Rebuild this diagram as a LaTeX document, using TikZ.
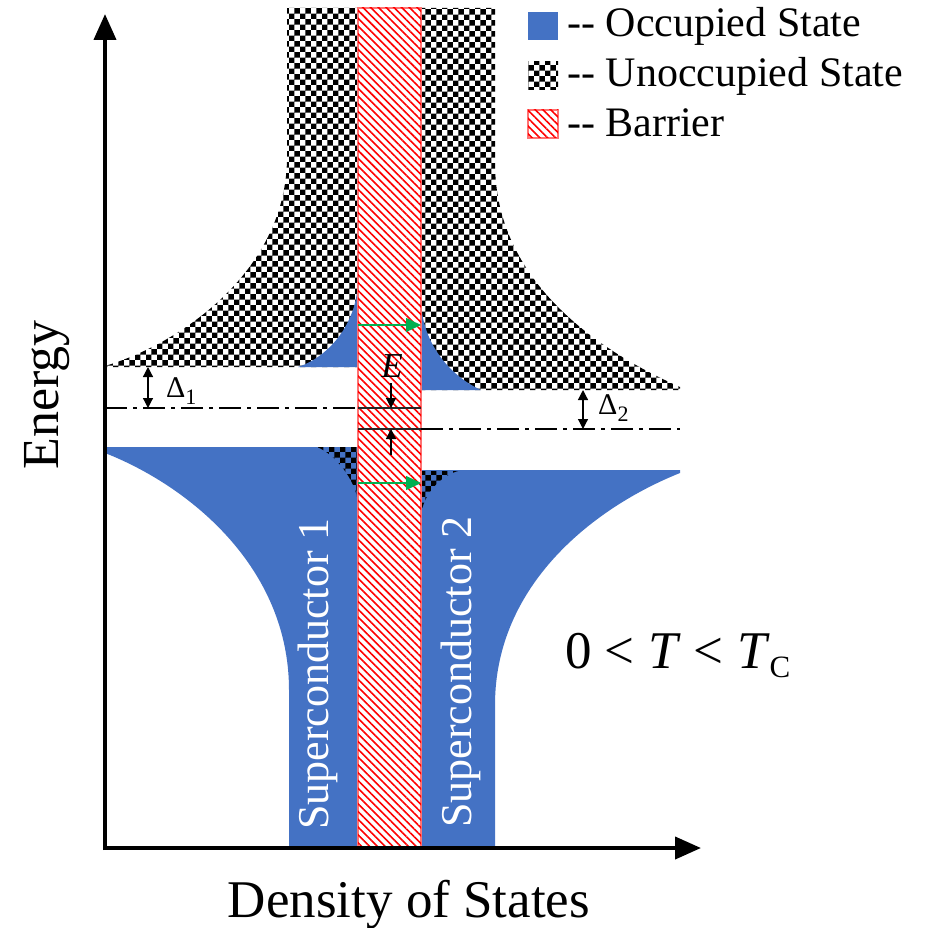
\documentclass[tikz,border=0pt]{standalone}
\usepackage{fontspec}
\setmainfont{LiberationSerif}[Extension=.ttf,UprightFont=*-Regular,ItalicFont=*-Italic,BoldFont=*-Bold,BoldItalicFont=*-BoldItalic]
\usetikzlibrary{patterns,patterns.meta,arrows.meta}
\definecolor{occ}{HTML}{4472C4}
\definecolor{grn}{HTML}{00B050}
\begin{document}
\begin{tikzpicture}[x=1pt,y=-1pt,
  occfill/.style={fill=occ},
  unocc/.style={pattern=checkerboard,pattern color=black},
  barrierbox/.style={fill=white,postaction={pattern={Lines[angle=-45,distance=5.5pt,line width=1.6pt]},pattern color=red},draw=red!55,line width=1.5pt},
  axisline/.style={line width=4pt,-{Triangle[length=26pt,width=22pt]}},
  dashdot/.style={line width=2.5pt,dash pattern=on 22pt off 6pt on 4pt off 6pt},
  thinline/.style={line width=1.5pt,black!85},
  greenarrow/.style={draw=grn,line width=1.2pt,-{Triangle[length=15pt,width=14pt]},grn},
  smallarrow/.style={line width=1.2pt,-{Triangle[length=10pt,width=10pt]}},
  dblarrow/.style={line width=1.2pt,{Triangle[length=10pt,width=10pt]}-{Triangle[length=10pt,width=10pt]}},
  legendtext/.style={font=\fontsize{42}{48}\selectfont,anchor=base west,inner sep=0pt},
  sclabel/.style={font=\fontsize{44}{48}\selectfont,text=white,rotate=90,inner sep=0pt}
]
\useasboundingbox (0,0) rectangle (925,928);

% ---------- Superconductor 1 ----------
\path[unocc] (287,8) -- (287,157) .. controls (287,266) and (188,341) .. (105,366)
  -- (105,367) -- (358,367) -- (358,8) -- cycle;
\path[occfill] (105,447) -- (358,447) -- (358,848) -- (289,848) -- (289,690)
  .. controls (289,567) and (189,486) .. (105,453) -- cycle;
\path[occfill] (358,278) .. controls (358,326) and (326,358) .. (298,367) -- (358,367) -- cycle;
\path[unocc] (317,447) .. controls (335,454) and (356,480) .. (358,503) -- (358,447) -- cycle;

% ---------- Superconductor 2 ----------
\path[unocc] (421,8) -- (495,8) -- (495,163) .. controls (495,280) and (596,350) .. (680,387)
  -- (680,390) -- (421,390) -- cycle;
\path[occfill] (421,470) -- (680,470) -- (680,473) .. controls (595,507) and (495,584) .. (495,705)
  -- (495,848) -- (421,848) -- cycle;
\path[occfill] (421,298) .. controls (421,346) and (454,378) .. (481,390) -- (421,390) -- cycle;
\path[unocc] (458,471) .. controls (440,476) and (423,495) .. (421,515) -- (421,471) -- cycle;

% ---------- Barrier ----------
\path[barrierbox] (358,8) rectangle (421,848);

% Fermi levels
\coordinate (fl1a) at (105,408); \coordinate (fl1b) at (358,408); \coordinate (fl1c) at (421,408);
\coordinate (fl2a) at (358,429); \coordinate (fl2b) at (421,429); \coordinate (fl2c) at (680,429);
\draw[dashdot] (fl1a) -- (fl1b);
\draw[thinline] (fl1b) -- (fl1c);
\draw[thinline] (fl2a) -- (fl2b);
\draw[dashdot] (fl2b) -- (fl2c);

% tunnelling arrows
\coordinate (g1a) at (358,325); \coordinate (g1b) at (421,325);
\coordinate (g2a) at (358,483); \coordinate (g2b) at (421,483);
\draw[greenarrow] (g1a) -- (g1b);
\draw[greenarrow] (g2a) -- (g2b);

% E arrows
\coordinate (ea) at (391,383); \coordinate (eb) at (391,408);
\coordinate (ec) at (391,455); \coordinate (ed) at (391,429);
\draw[smallarrow] (ea) -- (eb);
\draw[smallarrow] (ec) -- (ed);

% gap arrows
\coordinate (d1a) at (148,367); \coordinate (d1b) at (148,408);
\coordinate (d2a) at (583,390); \coordinate (d2b) at (583,429);
\draw[dblarrow] (d1a) -- (d1b);
\draw[dblarrow] (d2a) -- (d2b);

% axes
\coordinate (ytip) at (105,14);
\coordinate (xtip) at (701,848);
\coordinate (ostart) at (105,850);
\coordinate (xstart) at (103,848);
\draw[axisline] (ostart) -- (ytip);
\draw[axisline] (xstart) -- (xtip);

% labels
\node[font=\fontsize{35}{40}\selectfont\itshape,anchor=base,inner sep=0pt] (elabel) at (392,377) {E};
\node[anchor=base west,inner sep=0pt] (d1label) at (166,397)
  {\fontsize{30}{32}\selectfont Δ\raisebox{-7pt}{\fontsize{22}{22}\selectfont 1}};
\node[anchor=base west,inner sep=0pt] (d2label) at (598,414)
  {\fontsize{30}{32}\selectfont Δ\raisebox{-7pt}{\fontsize{22}{22}\selectfont 2}};

\node[sclabel] (sc1) at (318,674) {Superconductor 1};
\node[sclabel] (sc2) at (461,672) {Superconductor 2};

\node[font=\fontsize{52}{60}\selectfont,rotate=90,inner sep=0pt] (energy) at (47,395) {Energy};
\node[font=\fontsize{53}{60}\selectfont,anchor=base,inner sep=0pt] (dos) at (409,917) {Density of States};

\node[anchor=base west,inner sep=0pt,font=\fontsize{53}{60}\selectfont] (temp) at (565,668)
  {0 < \textit{T} < \textit{T}\raisebox{-9pt}{\fontsize{31}{31}\selectfont C}};

% legend
\path[occfill] (528,12) rectangle (558,40);
\path[unocc] (528,62) rectangle (558,90);
\path[barrierbox] (528,110) rectangle (558,138);
\node[legendtext] (l1) at (567,37) {-{}- Occupied State};
\node[legendtext] (l2) at (567,87) {-{}- Unoccupied State};
\node[legendtext] (l3) at (567,137) {-{}- Barrier};
\end{tikzpicture}
\end{document}
